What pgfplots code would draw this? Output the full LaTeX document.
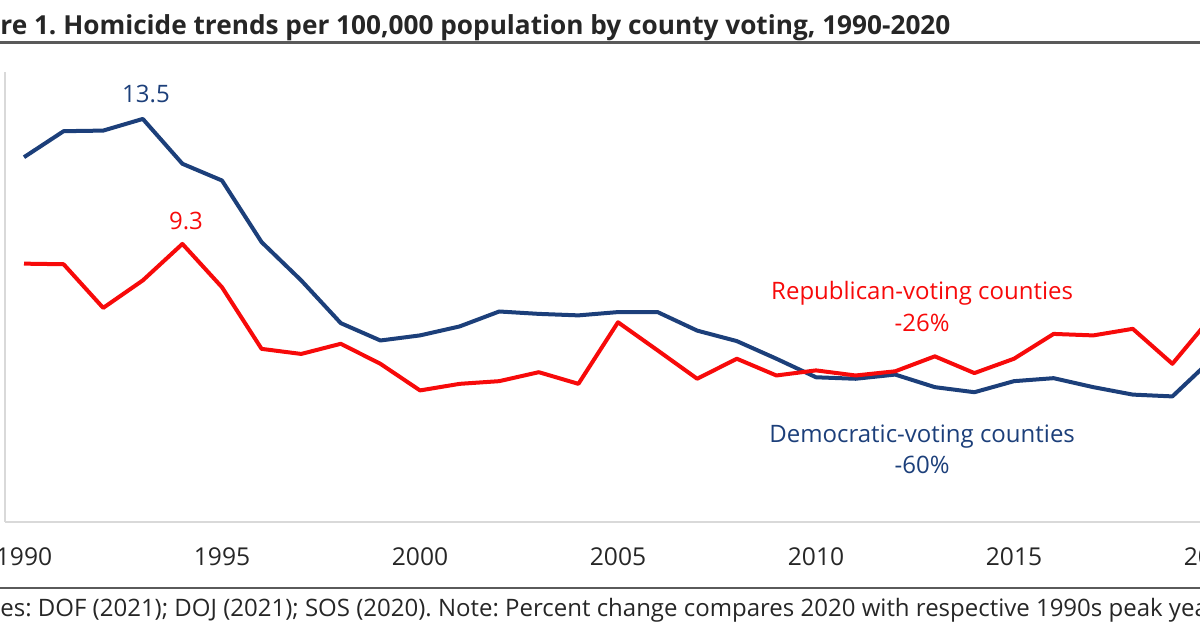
\documentclass[border=0pt]{standalone}
\usepackage{fontspec}
\setmainfont{Open Sans}
\usepackage{pgfplots}
\usepackage{pgfplotstable}
\pgfplotsset{compat=1.18}
\definecolor{dem}{HTML}{1C3F7A}
\definecolor{rep}{HTML}{F70A0A}
\definecolor{rulec}{HTML}{5A5A5A}
\definecolor{axgray}{HTML}{D9D9D9}
\definecolor{txt}{HTML}{262626}
\pgfplotstableread{
year dem rep
1990 12.20 8.64
1991 13.07 8.62
1992 13.09 7.16
1993 13.48 8.08
1994 11.98 9.30
1995 11.42 7.85
1996 9.36 5.79
1997 8.08 5.62
1998 6.65 5.96
1999 6.07 5.29
2000 6.24 4.40
2001 6.54 4.62
2002 7.04 4.71
2003 6.96 5.01
2004 6.91 4.62
2005 7.02 6.68
2006 7.02 5.74
2007 6.40 4.79
2008 6.05 5.46
2009 5.46 4.90
2010 4.84 5.07
2011 4.79 4.90
2012 4.93 5.04
2013 4.51 5.54
2014 4.34 4.98
2015 4.71 5.46
2016 4.81 6.29
2017 4.51 6.24
2018 4.26 6.46
2019 4.20 5.29
2020 5.45 6.88
}\datatable
\begin{document}
\frenchspacing
\begin{tikzpicture}[x=0.5pt,y=0.5pt]
\useasboundingbox (0,0) rectangle (1200,630);
\clip (0,0) rectangle (1200,630);
\node[anchor=base west, inner sep=0, text=txt, font=\bfseries\fontsize{13.1}{15}\selectfont] at (0,595) {\frenchspacing\llap{Figu}re 1. Homicide trends per 100,000 population by county voting, 1990-2020};
\draw[rulec, line width=1.1pt] (0,587.5) -- (1200,587.5);
\draw[rulec, line width=1.1pt] (0,42) -- (1200,42);
\node[anchor=base west, inner sep=0, text=txt, font=\fontsize{12}{14}\selectfont] at (0,13) {\frenchspacing\llap{Sourc}es: DOF (2021); DOJ (2021); SOS (2020). Note: Percent change compares 2020 with respective 1990s peak year.};
\begin{axis}[
  at={(2.5pt,54pt)}, anchor=south west,
  scale only axis, width=633.2pt, height=225pt,
  xmin=1989.52, xmax=2021.5, ymin=0, ymax=15.05,
  axis x line*=bottom, axis y line*=left,
  axis line style={draw=axgray, line width=0.8pt, -},
  ytick=\empty,
  xtick={1990,1995,2000,2005,2010,2015,2020},
  major tick length=0pt,
  /pgf/number format/1000 sep={},
  /pgf/number format/assume math mode=true,
  xticklabel style={anchor=base, yshift=-22pt, text=txt, font=\fontsize{12.3}{14}\selectfont},
  clip=false,
]
\addplot[dem, line width=2pt, line join=round] table[x=year, y=dem] {\datatable};
\addplot[rep, line width=2pt, line join=round] table[x=year, y=rep] {\datatable};
\node[text=dem, anchor=base, inner sep=0, font=\fontsize{12}{14}\selectfont] at (axis cs:1993.08,14.02) {13.5};
\node[text=rep, anchor=base, inner sep=0, font=\fontsize{12}{14}\selectfont] at (axis cs:1994.09,9.78) {9.3};
\node[text=rep, anchor=base, inner sep=0, font=\fontsize{12}{14}\selectfont] at (axis cs:2012.68,7.44) {Republican-voting counties};
\node[text=rep, anchor=base, inner sep=0, font=\fontsize{12}{14}\selectfont] at (axis cs:2012.68,6.38) {-26\%};
\node[text=dem, anchor=base, inner sep=0, font=\fontsize{12}{14}\selectfont] at (axis cs:2012.68,2.65) {Democratic-voting counties};
\node[text=dem, anchor=base, inner sep=0, font=\fontsize{12}{14}\selectfont] at (axis cs:2012.68,1.62) {-60\%};
\end{axis}
\end{tikzpicture}
\end{document}
